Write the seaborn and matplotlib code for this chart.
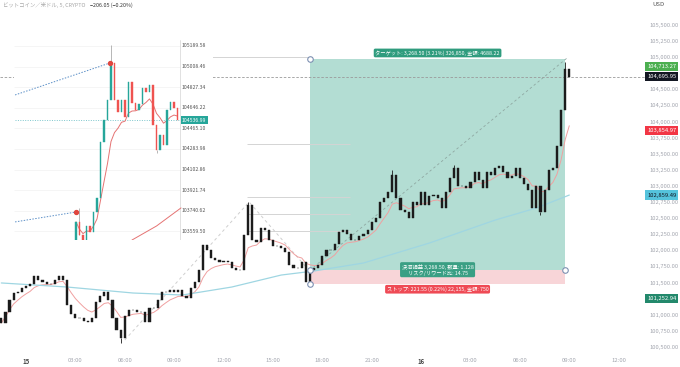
import matplotlib
matplotlib.use("Agg")
import matplotlib.pyplot as plt
import numpy as np
import pandas as pd
import seaborn as sns
from matplotlib.patches import Rectangle

# メインチャート (5分足を15分ごとに読み取った終値)
first_open = 100950
closes = [
    100872, 101043, 101229, 101338, 101353, 101415, 101446, 101477, 101602,
    101540, 101509, 101477, 101477, 101540, 101602, 101540, 101151, 101011,
    100949, 100949, 100903, 100887, 100949, 101198, 101291,
    101353, 101229, 100949, 100763, 100639, 100981, 101074, 101074, 101043,
    101043, 100887, 101105, 101105, 101229, 101353, 101353, 101384, 101353,
    101384, 101291, 101260, 101415, 101509, 101695, 102083, 102006, 101881,
    101850, 101819, 101835, 101819, 101726, 101695, 101695, 102239,
    102704, 102161, 102130, 102347, 102316, 102161, 102068, 102068, 102037,
    101975, 101773, 101726, 101726, 101819, 101509, 101695, 101726, 101773,
    101912, 102006, 102006, 102099, 102285, 102316, 102254, 102161, 102161,
    102223, 102254, 102316, 102440, 102502, 102751, 102813, 102906,
    103170, 102813, 102627, 102596, 102502, 102751, 102704, 102906, 102704,
    102844, 102860, 102813, 102658, 102906, 103124, 103279, 102999, 102999,
    102968, 103062, 103217, 103093, 102968, 103217, 103170, 103279, 103310,
    103217, 103124, 103155, 103279, 103124, 103030, 102937, 102658, 102999,
    102596, 102937, 103248, 103279, 103624, 104180, 104820, 104696,
]

# ひげ (高値・安値の目立つもの)
spike_hours = [5.75, 13.5, 22.25, 26.0, 31.25, 32.75]
spike_prices = [100561, 102751, 103248, 103326, 102549, 104925]

# 長期移動平均 (水色)
slow_hours = [-1.5, 2.5, 6.5, 9.5, 12.5, 15.5, 17.5, 20.5, 24.5, 28.5, 31, 33]
slow_prices = [101494, 101431, 101338, 101307, 101431, 101617, 101680,
               101804, 102114, 102471, 102658, 102859]

# ポジション
entry = 101700
target = 104968.5
stop = 101478.45
pos_hours = [17.25, 32.75]

zigzag_hours = [6.0, 13.55, 17.07]
zigzag_prices = [100608, 102751, 101726]
diag_hours = [17.25, 32.87]
diag_prices = [101695, 104988]

level_prices = [105003, 103652, 102829, 102565, 102301]
level_start = [11.0, 13.4, 13.4, 13.4, 13.4]
level_end = [17.25, 19.7, 19.7, 19.7, 19.7]

tick_hours = list(range(0, 37, 3))
tick_labels = ["15", "03:00", "06:00", "09:00", "12:00", "15:00", "18:00",
               "21:00", "16", "03:00", "06:00", "09:00", "12:00"]

# 価格軸の目盛り (タグに隠れるものは除く)
price_ticks = [100500, 100750, 101000, 101500, 101750, 102000, 102250, 102500,
               102750, 103000, 103250, 103500, 103750, 104000, 104250, 104500,
               105000, 105250, 105500]

tag_prices = [104713.27, 104695.95, 103854.97, 102859.49, 101252.94]
tag_colors = ["#4caf50", "#131722", "#f23645", "#55c3dc", "#23896c"]
tag_text_colors = ["white", "white", "white", "#131722", "white"]

# 左上の拡大チャート
inset_first_open = 103484
inset_closes = [103643, 103528, 103484, 103607, 103555, 103730, 103854, 104346,
                104539, 104715, 105040, 104715, 104610, 104715, 104566, 104873,
                104689, 104627, 104680, 104820, 104785, 104847, 104495, 104275,
                104407, 104319, 104627, 104697, 104645, 104537]
inset_spike_idx = [1, 10, 23]
inset_spike_prices = [103766, 105198, 104249]
inset_slow_idx = [16, 23, 30]
inset_slow_prices = [103484, 103607, 103766]
inset_labels = [105189.58, 105008.46, 104827.34, 104646.22, 104465.10,
                104283.98, 104102.86, 103921.74, 103740.62, 103559.50]
inset_last = 104536.99
inset_line1_idx = [-17.4, 9.7]
inset_line1_prices = [104759, 105040]
inset_line2_idx = [-17.4, 0]
inset_line2_prices = [103643, 103730]

sns.set_theme(style="white")
plt.rcParams["font.family"] = ["Noto Sans CJK JP", "DejaVu Sans"]


def draw_candles(ax, x, opens, closes, width, up, down):
    o = np.asarray(opens, dtype=float)
    c = np.asarray(closes, dtype=float)
    colors = np.where(c >= o, up, down)
    ax.bar(x, c - o, bottom=o, width=width, color=colors, edgecolor=colors,
           linewidth=0.3, zorder=3)


fig = plt.figure(figsize=(6.8, 3.67), dpi=100)
ax = fig.add_axes([0, 15 / 367, 645 / 680, 352 / 367])

times = pd.date_range("2025-05-14 22:30", periods=len(closes), freq="15min")
hours = ((times - pd.Timestamp("2025-05-15")) / pd.Timedelta(hours=1)).to_numpy()
opens = [first_open] + closes[:-1]

# ポジションの範囲
ax.add_patch(Rectangle((pos_hours[0], entry), pos_hours[1] - pos_hours[0],
                       target - entry, facecolor="#b3ddd3", edgecolor="none", zorder=0.5))
ax.add_patch(Rectangle((pos_hours[0], stop), pos_hours[1] - pos_hours[0],
                       entry - stop, facecolor="#f8d5d8", edgecolor="none", zorder=0.5))

ax.hlines(level_prices, level_start, level_end, color="#d4d4d4", lw=0.7, zorder=1)
ax.plot(zigzag_hours, zigzag_prices, ls=(0, (3, 3)), color="#cfcfcf", lw=0.7, zorder=1)
ax.plot(diag_hours, diag_prices, ls=(0, (3, 3)), color="#8fa8a2", lw=0.6, zorder=1.5)
ax.axhline(closes[-1], color="#9a9a9a", ls=(0, (3, 2)), lw=0.6, zorder=1)

fast = pd.Series(closes).ewm(span=8).mean()
sns.lineplot(x=hours, y=fast.values, color="#f0a0a0", lw=0.7, ax=ax, zorder=2)
sns.lineplot(x=slow_hours, y=slow_prices, color="#9fd6e2", lw=0.9, ax=ax, zorder=2)

draw_candles(ax, hours, opens, closes, 0.13, "#1b1b1b", "#1b1b1b")
for sh, sp in zip(spike_hours, spike_prices):
    k = int(np.argmin(np.abs(hours - sh)))
    ax.vlines(hours[k], min(closes[k], sp), max(closes[k], sp), color="#1b1b1b",
              lw=0.6, zorder=3)

# ハンドル
ax.scatter([pos_hours[0], pos_hours[0], pos_hours[1], pos_hours[0]],
           [target, entry, entry, stop], s=16, facecolor="white",
           edgecolor="#7d90b2", linewidth=0.8, zorder=6)

mid = (pos_hours[0] + pos_hours[1]) / 2
ax.annotate("ターゲット: 3,268.50 (3.21%) 326,850, 金額: 4688.22", xy=(mid, target),
            xytext=(0, 4.5), textcoords="offset points", ha="center", va="center",
            fontsize=3.8, color="white", zorder=7,
            bbox=dict(boxstyle="round,pad=0.3", fc="#2f9c7e", ec="none"))
ax.annotate("決済損益 3,268.50, 数量: 1.128\nリスク/リワード比: 14.75", xy=(mid, entry),
            ha="center", va="center", fontsize=3.8, color="white", zorder=7,
            linespacing=1.1,
            bbox=dict(boxstyle="round,pad=0.3", fc="#3a9f84", ec="none"))
ax.annotate("ストップ: 221.55 (0.22%) 22,155, 金額: 750", xy=(mid, stop),
            xytext=(0, -3.8), textcoords="offset points", ha="center", va="center",
            fontsize=3.8, color="white", zorder=7,
            bbox=dict(boxstyle="round,pad=0.3", fc="#ef4a55", ec="none"))

ax.set_xlim(-1.58, 37.6)
ax.set_ylim(100422, 105888)
ax.set_xticks(tick_hours)
ax.set_xticklabels(tick_labels)
ax.yaxis.tick_right()
ax.set_yticks(price_ticks)
ax.set_yticklabels([f"{v:,.2f}" for v in price_ticks])
ax.tick_params(axis="y", length=0, pad=3, labelsize=4.2, labelcolor="#a3a6af")
ax.tick_params(axis="x", length=0, pad=4, labelsize=4.3, labelcolor="#a3a6af")
for lab in ax.get_xticklabels():
    if lab.get_text() in ("15", "16"):
        lab.set_color("#444444")
        lab.set_fontweight("bold")
ax.set_xlabel("")
ax.set_ylabel("")
for s in ax.spines.values():
    s.set_visible(False)

tag_offsets = [6.5, 0, 0, 0, 0]
for p, fc, tc, off in zip(tag_prices, tag_colors, tag_text_colors, tag_offsets):
    ax.annotate(f"{p:,.2f}", xy=(1, p), xycoords=("axes fraction", "data"),
                xytext=(1.5, off), textcoords="offset points", ha="left", va="center",
                fontsize=4.2, color=tc, annotation_clip=False, zorder=8,
                bbox=dict(boxstyle="square,pad=0.35", fc=fc, ec="none"))

fig.text(652 / 680, 1 - 5 / 367, "USD", fontsize=4.3, color="#555555", va="center")
fig.text(3 / 680, 1 - 5 / 367, "ビットコイン／米ドル, 5, CRYPTO", fontsize=3.9,
         color="#a8a8a8", va="center")
fig.text(90 / 680, 1 - 5 / 367, "−206.05 (−0.20%)", fontsize=3.9, color="#333333",
         va="center")

# 左上の拡大チャート
axi = fig.add_axes([14 / 680, 1 - 240 / 367, 199 / 680, 200 / 367])
axi.set_facecolor("white")
axi.set_xlim(-17.71, 39.14)
axi.set_ylim(103484, 105242)
axi.set_xticks([])
axi.set_yticks([])
for s in axi.spines.values():
    s.set_visible(False)

idx = np.arange(len(inset_closes))
inset_opens = [inset_first_open] + inset_closes[:-1]
axi.hlines(inset_labels, -17.71, 29.7, color="#f2f2f2", lw=0.5, zorder=0)
axi.axvline(29.7, color="#dcdcdc", lw=0.6, zorder=1)
axi.hlines(inset_last, -17.4, 29.7, color="#7cc6cc", lw=0.7, ls=(0, (1, 1.5)), zorder=1)
axi.plot(inset_line1_idx, inset_line1_prices, color="#5b8fc7", lw=0.7, ls=(0, (1.5, 1.5)))
axi.plot(inset_line2_idx, inset_line2_prices, color="#5b8fc7", lw=0.7, ls=(0, (1.5, 1.5)))
axi.scatter([inset_line1_idx[1], inset_line2_idx[1]],
            [inset_line1_prices[1], inset_line2_prices[1]], s=8, color="#e0463f", zorder=5)

inset_fast = pd.Series(inset_closes).ewm(span=9).mean()
sns.lineplot(x=idx, y=inset_fast.values, color="#e57373", lw=0.7, ax=axi, zorder=2)
sns.lineplot(x=inset_slow_idx, y=inset_slow_prices, color="#e57373", lw=0.7, ax=axi, zorder=2)

for i, sp in zip(inset_spike_idx, inset_spike_prices):
    axi.vlines(i, min(inset_closes[i], sp), max(inset_closes[i], sp), color="#9a9a9a",
               lw=0.5, zorder=2.5)
draw_candles(axi, idx, inset_opens, inset_closes, 0.5, "#26a69a", "#ef5350")

for v in inset_labels:
    axi.text(30.3, v, f"{v:.2f}", fontsize=3.7, color="#555555", va="center", ha="left")
axi.text(30.3, inset_last, f"{inset_last:.2f}", fontsize=3.7, color="white",
         va="center", ha="left", zorder=6,
         bbox=dict(boxstyle="square,pad=0.25", fc="#26a69a", ec="none"))
axi.set_xlabel("")
axi.set_ylabel("")

fig.savefig("out.png", dpi=100)
